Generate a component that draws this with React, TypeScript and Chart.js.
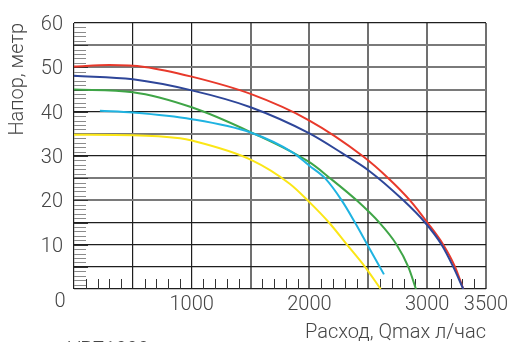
import React, { useEffect, useRef } from "react";
import { Chart, registerables } from "chart.js";

Chart.register(...registerables);

// X ticks (flow, l/h) and Y ticks (head, m)
const xTickLabels = [1000, 2000, 3000, 3500];
const yTickLabels = [10, 20, 30, 40, 50, 60];

const redX = [0, 300, 600, 1000, 1500, 2000, 2452, 2670, 2854, 3002, 3137, 3237, 3307];
const redY = [50.2, 50.5, 50.1, 47.9, 44.0, 38.0, 30.0, 25.0, 20.0, 15.0, 10.0, 5.0, 0];

const blueX = [0, 500, 1000, 1500, 2000, 2274, 2500, 2798, 2982, 3123, 3222, 3307];
const blueY = [48.1, 47.3, 44.8, 41.0, 35.1, 30.7, 26.8, 20.0, 15.0, 10.0, 5.0, 0];

const greenX = [0, 500, 1000, 1500, 2000, 2175, 2401, 2593, 2741, 2840, 2905];
const greenY = [45.0, 44.4, 41.0, 35.4, 28.6, 25.0, 20.0, 15.0, 10.0, 5.0, 0];

const cyanX = [220, 500, 1000, 1500, 1863, 2000, 2132, 2274, 2387, 2492, 2633];
const cyanY = [40.2, 39.8, 38.3, 35.3, 30.7, 27.8, 25.0, 20.0, 15.0, 10.0, 3.3];

const yellowX = [0, 500, 900, 1000, 1500, 1835, 2000, 2166, 2319, 2472, 2605];
const yellowY = [34.8, 34.7, 34.0, 33.5, 29.2, 23.7, 19.6, 15.0, 10.0, 5.0, 0];

const xTitle = "Расход, Qmax л/час";
const yTitle = "Напор, метр";
const modelLabel = "VPZ1000";

const FONT = "Roboto";
const TEXT_COLOR = "#454545";

const toPoints = (xs: number[], ys: number[]) => xs.map((x, i) => ({ x, y: ys[i] }));

const darkY = new Set([0, 5, 10, 15, 30, 40, 60]);

const minorTicks = {
  id: "minorTicks",
  beforeDatasetsDraw(chart: any) {
    const { ctx, scales } = chart;
    const xs = scales.x;
    const ys = scales.y;
    ctx.save();
    ctx.lineWidth = 1;
    // left minor ticks every 1 m
    for (let v = 1; v < 60; v++) {
      const py = Math.round(ys.getPixelForValue(v)) + 0.5;
      const major = v % 5 === 0;
      ctx.strokeStyle = major ? "#333" : "#8a8a8a";
      ctx.beginPath();
      ctx.moveTo(xs.left, py);
      ctx.lineTo(xs.left + (major ? 14 : 12), py);
      ctx.stroke();
    }
    // bottom minor ticks every 100 l/h
    ctx.strokeStyle = "#333";
    for (let v = 100; v < 3500; v += 100) {
      if (v % 500 === 0) continue;
      const px = Math.round(xs.getPixelForValue(v)) + 0.5;
      ctx.beginPath();
      ctx.moveTo(px, ys.bottom);
      ctx.lineTo(px, ys.bottom - 10);
      ctx.stroke();
    }
    ctx.restore();
  },
  afterDraw(chart: any) {
    const { ctx, scales } = chart;
    ctx.save();
    ctx.font = `300 20px ${FONT}`;
    ctx.fillStyle = TEXT_COLOR;
    ctx.textAlign = "center";
    ctx.textBaseline = "middle";
    ctx.fillText("0", scales.x.getPixelForValue(0) - 14, scales.y.bottom + 13);
    ctx.restore();
  },
};

export default function App() {
  const ref = useRef<HTMLCanvasElement>(null);

  useEffect(() => {
    if (!ref.current) return;
    const mk = (data: { x: number; y: number }[], color: string) => ({
      data,
      borderColor: color,
      backgroundColor: color,
      borderWidth: 2,
      pointRadius: 0,
      cubicInterpolationMode: "monotone" as const,
      fill: false,
    });
    const chart = new Chart(ref.current, {
      type: "line",
      data: {
        datasets: [
          mk(toPoints(yellowX, yellowY), "#fbe616"),
          mk(toPoints(cyanX, cyanY), "#1fb3e1"),
          mk(toPoints(greenX, greenY), "#3fa547"),
          mk(toPoints(blueX, blueY), "#2e4699"),
          mk(toPoints(redX, redY), "#e8392b"),
        ],
      },
      options: {
        animation: false,
        responsive: false,
        layout: { padding: { top: 17, right: 29, left: 0, bottom: 0 } },
        plugins: { legend: { display: false }, tooltip: { enabled: false } },
        scales: {
          x: {
            type: "linear",
            min: 0,
            max: 3500,
            afterFit: (s: any) => {
              s.height = 53;
            },
            border: { display: false },
            grid: {
              drawTicks: false,
              color: (c: any) => (c.tick && c.tick.value <= 1000 ? "#1e1e1e" : "#707070"),
              lineWidth: (c: any) => (c.tick && c.tick.value <= 1000 ? 1.2 : 2),
            },
            ticks: {
              stepSize: 500,
              autoSkip: false,
              maxRotation: 0,
              padding: 4,
              color: TEXT_COLOR,
              font: { family: FONT, size: 20, weight: "300" as any },
              callback: (v: any) => (xTickLabels.includes(Number(v)) ? String(v) : ""),
            },
            title: {
              display: true,
              text: xTitle,
              align: "end",
              color: TEXT_COLOR,
              font: { family: FONT, size: 20, weight: "300" as any },
              padding: { top: 0, bottom: -3 },
            },
          },
          y: {
            type: "linear",
            min: 0,
            max: 60,
            afterFit: (s: any) => {
              s.width = 74;
            },
            border: { display: false },
            grid: {
              drawTicks: false,
              color: (c: any) => (c.tick && darkY.has(c.tick.value) ? "#1e1e1e" : "#7a7a7a"),
              lineWidth: (c: any) => (c.tick && darkY.has(c.tick.value) ? 1.2 : 2),
            },
            ticks: {
              stepSize: 5,
              autoSkip: false,
              padding: 11,
              labelOffset: 2,
              color: TEXT_COLOR,
              font: { family: FONT, size: 20, weight: "300" as any },
              callback: (v: any) => (yTickLabels.includes(Number(v)) ? String(v) : ""),
            },
            title: {
              display: true,
              text: yTitle,
              align: "end",
              color: TEXT_COLOR,
              font: { family: FONT, size: 20, weight: "300" as any },
              padding: { top: 6, bottom: 0 },
            },
          },
        },
      },
      plugins: [minorTicks],
    });
    return () => chart.destroy();
  }, []);

  return (
    <div
      style={{
        position: "fixed",
        left: 0,
        top: 0,
        width: 515,
        height: 342,
        overflow: "hidden",
        background: "#fff",
      }}
    >
      <canvas ref={ref} width={515} height={342} style={{ display: "block" }} />
      <div
        style={{
          position: "absolute",
          left: 68,
          top: 337,
          fontFamily: FONT,
          fontWeight: 300,
          fontSize: 20,
          lineHeight: "24px",
          color: TEXT_COLOR,
          whiteSpace: "nowrap",
        }}
      >
        {modelLabel}
      </div>
    </div>
  );
}
